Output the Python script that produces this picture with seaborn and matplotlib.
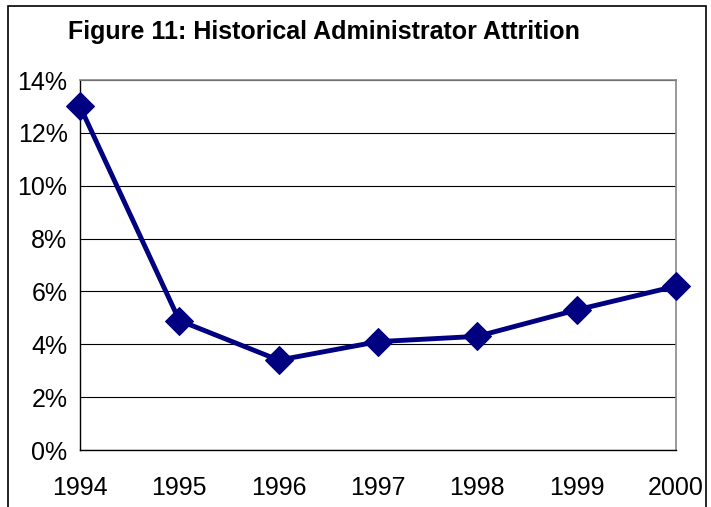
import matplotlib
matplotlib.use("Agg")
import matplotlib.pyplot as plt
import seaborn as sns
import pandas as pd
from matplotlib.patches import Rectangle
from matplotlib.ticker import FuncFormatter

sns.set_style("white")
plt.rcParams["font.family"] = ["Liberation Sans", "DejaVu Sans"]
plt.rcParams["text.color"] = "black"
plt.rcParams["xtick.color"] = "black"
plt.rcParams["ytick.color"] = "black"

# Данные
years = [1994, 1995, 1996, 1997, 1998, 1999, 2000]
attrition = [0.130, 0.049, 0.034, 0.041, 0.043, 0.053, 0.062]

df = pd.DataFrame({"year": years, "attrition": attrition})

fig = plt.figure(figsize=(7.11, 5.07), dpi=100)
ax = fig.add_axes([80 / 711, 1 - 450 / 507, 596 / 711, 370 / 507])

# Внешняя рамка
fig.patches.append(Rectangle((8 / 711, -0.05), 698 / 711, 1.05 - 6 / 507,
                             transform=fig.transFigure, fill=False,
                             edgecolor="black", linewidth=1.2))

sns.lineplot(data=df, x="year", y="attrition", ax=ax, color="#000080",
             linewidth=3.5, marker="D", markersize=14,
             markeredgecolor="#000080", markerfacecolor="#000080", clip_on=False,
             zorder=5)

ax.set_xlim(1994, 2000)
ax.set_ylim(0, 0.14)
ax.set_xticks(years)
ax.set_yticks([i / 100 for i in range(0, 15, 2)])
ax.yaxis.set_major_formatter(FuncFormatter(lambda v, _: f"{round(v * 100)}%"))
ax.grid(axis="y", color="black", linewidth=0.8)
ax.set_axisbelow(True)

for side in ["top", "right"]:
    ax.spines[side].set_color("#888888")
    ax.spines[side].set_linewidth(1.2)
for side in ["left", "bottom"]:
    ax.spines[side].set_color("black")
    ax.spines[side].set_linewidth(1.0)

ax.tick_params(axis="both", direction="out", length=5, width=1, color="black",
               labelsize=18, pad=4, labelcolor="black")
ax.tick_params(axis="x", pad=14)
ax.set_xlabel("")
ax.set_ylabel("")

fig.text(68 / 711, 1 - 32 / 507, "Figure 11: Historical Administrator Attrition",
         fontsize=18, fontweight="bold", va="center", ha="left")

fig.savefig("out.png", dpi=100)
